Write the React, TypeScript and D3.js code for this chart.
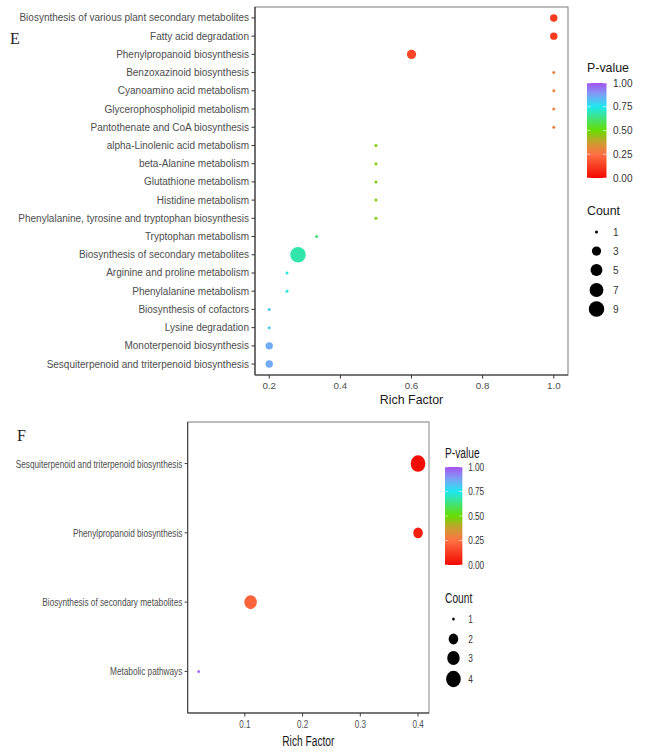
import * as d3 from "d3";
import type { ReactNode } from "react";

// Panel E — enriched KEGG pathways
const E_PATHWAYS = [
  "Biosynthesis of various plant secondary metabolites",
  "Fatty acid degradation",
  "Phenylpropanoid biosynthesis",
  "Benzoxazinoid biosynthesis",
  "Cyanoamino acid metabolism",
  "Glycerophospholipid metabolism",
  "Pantothenate and CoA biosynthesis",
  "alpha-Linolenic acid metabolism",
  "beta-Alanine metabolism",
  "Glutathione metabolism",
  "Histidine metabolism",
  "Phenylalanine, tyrosine and tryptophan biosynthesis",
  "Tryptophan metabolism",
  "Biosynthesis of secondary metabolites",
  "Arginine and proline metabolism",
  "Phenylalanine metabolism",
  "Biosynthesis of cofactors",
  "Lysine degradation",
  "Monoterpenoid biosynthesis",
  "Sesquiterpenoid and triterpenoid biosynthesis",
];
const E_RICH = [1, 1, 0.6, 1, 1, 1, 1, 0.5, 0.5, 0.5, 0.5, 0.5, 0.333, 0.281, 0.25, 0.25, 0.2, 0.2, 0.2, 0.2];
const E_PVALUE = [0.12, 0.12, 0.15, 0.3, 0.3, 0.3, 0.3, 0.47, 0.47, 0.47, 0.47, 0.47, 0.62, 0.68, 0.73, 0.73, 0.81, 0.81, 0.86, 0.86];
const E_COUNT = [2, 2, 3, 1, 1, 1, 1, 1, 1, 1, 1, 1, 1, 9, 1, 1, 1, 1, 2, 2];
const E_X_TICKS = [0.2, 0.4, 0.6, 0.8, 1.0];
const E_COUNT_BREAKS = [1, 3, 5, 7, 9];

// Panel F
const F_PATHWAYS = [
  "Sesquiterpenoid and triterpenoid biosynthesis",
  "Phenylpropanoid biosynthesis",
  "Biosynthesis of secondary metabolites",
  "Metabolic pathways",
];
const F_RICH = [0.4, 0.4, 0.11, 0.02];
const F_PVALUE = [0.01, 0.06, 0.22, 0.97];
const F_COUNT = [4, 2, 3, 1];
const F_X_TICKS = [0.1, 0.2, 0.3, 0.4];
const F_COUNT_BREAKS = [1, 2, 3, 4];

const PVALUE_TICKS = [1.0, 0.75, 0.5, 0.25, 0.0];
const PVALUE_STOPS = [0, 0.25, 0.38, 0.5, 0.75, 0.88, 1];
const PVALUE_COLORS = ["#f20800", "#ff7043", "#c8a030", "#66dd00", "#1ee8f0", "#80a0f5", "#a452f0"];

const FONT = "'Liberation Sans', Arial, Helvetica, sans-serif";

const pColor = d3
  .scaleLinear<string>()
  .domain(PVALUE_STOPS)
  .range(PVALUE_COLORS)
  .interpolate(d3.interpolateRgb)
  .clamp(true);

interface PanelProps {
  id: string;
  pathways: string[];
  rich: number[];
  pvalue: number[];
  count: number[];
  xTicks: number[];
  countBreaks: number[];
  box: { x0: number; x1: number; y0: number; y1: number };
  legendX: number;
  legend: { pTitle: number; barTop: number; barBottom: number; countTitle: number; countY: number[] };
  diam: [number, number];
  fs: number; // font scale
  narrow: number; // horizontal squeeze of glyphs
}

function Txt(props: {
  x: number;
  y: number;
  k: number;
  size: number;
  fill: string;
  anchor?: string;
  dy?: string;
  children: ReactNode;
}) {
  return (
    <text
      transform={`translate(${props.x},${props.y}) scale(${props.k},1)`}
      textAnchor={props.anchor ?? "start"}
      dy={props.dy}
      fontSize={props.size}
      fill={props.fill}
    >
      {props.children}
    </text>
  );
}

function BubblePanel(p: PanelProps) {
  const { box, fs, narrow } = p;
  // ggplot-style 5% expansion around the data range
  const [lo, hi] = d3.extent(p.rich) as [number, number];
  const pad = (hi - lo) * 0.05;
  const x = d3.scaleLinear().domain([lo - pad, hi + pad]).range([box.x0, box.x1]);
  const y = d3.scalePoint<string>().domain(p.pathways).range([box.y0, box.y1]).padding(0.6);

  const cMin = d3.min(p.countBreaks)!;
  const cMax = d3.max(p.countBreaks)!;
  const area = d3.scaleLinear().domain([0, 1]).range(p.diam);
  const radius = (c: number) => area(Math.sqrt((c - cMin) / (cMax - cMin))) / 2;

  const bar = d3.scaleLinear().domain([0, 1]).range([p.legend.barBottom, p.legend.barTop]);
  const gradStops = d3.range(0, 1.0001, 0.05);
  const lx = p.legendX;

  return (
    <g fontFamily={FONT}>
      <defs>
        <linearGradient id={`grad-${p.id}`} x1="0" y1="1" x2="0" y2="0">
          {gradStops.map((s) => (
            <stop key={s} offset={s} stopColor={pColor(s)} />
          ))}
        </linearGradient>
      </defs>

      <rect x={box.x0} y={box.y0} width={box.x1 - box.x0} height={box.y1 - box.y0} fill="#fff" stroke="#7a7a7a" strokeWidth={1} />
      <line x1={box.x0} x2={box.x0} y1={box.y0} y2={box.y1} stroke="#333" strokeWidth={1.1} />
      <line x1={box.x0} x2={box.x1} y1={box.y1} y2={box.y1} stroke="#333" strokeWidth={1.1} />

      {/* y axis */}
      {p.pathways.map((name) => (
        <g key={name}>
          <line x1={box.x0 - 3.5} x2={box.x0} y1={y(name)} y2={y(name)} stroke="#333" />
          <Txt x={box.x0 - 6} y={y(name)!} k={narrow} anchor="end" dy="0.35em" size={10 * fs} fill="#4d4d4d">
            {name}
          </Txt>
        </g>
      ))}

      {/* x axis */}
      {p.xTicks.map((t) => (
        <g key={t}>
          <line x1={x(t)} x2={x(t)} y1={box.y1} y2={box.y1 + 3.5} stroke="#333" />
          <Txt x={x(t)} y={box.y1 + 4 + 10 * fs} k={narrow} anchor="middle" size={9.8 * fs} fill="#4d4d4d">
            {t.toFixed(1)}
          </Txt>
        </g>
      ))}
      <Txt x={(box.x0 + box.x1) / 2} y={box.y1 + 29 * fs} k={narrow} anchor="middle" size={12.4 * fs} fill="#1a1a1a">
        Rich Factor
      </Txt>

      {/* bubbles */}
      {p.pathways.map((name, i) => (
        <circle key={name} cx={x(p.rich[i])} cy={y(name)} r={radius(p.count[i])} fill={pColor(p.pvalue[i])} />
      ))}

      {/* colour legend */}
      <Txt x={lx} y={p.legend.pTitle} k={narrow} size={12.4 * fs} fill="#1a1a1a">
        P-value
      </Txt>
      <rect x={lx} y={p.legend.barTop} width={19.5} height={p.legend.barBottom - p.legend.barTop} fill={`url(#grad-${p.id})`} />
      {PVALUE_TICKS.map((t) => (
        <g key={t}>
          <line x1={lx} x2={lx + 3.5} y1={bar(t)} y2={bar(t)} stroke="#fff" strokeOpacity={0.6} />
          <line x1={lx + 16} x2={lx + 19.5} y1={bar(t)} y2={bar(t)} stroke="#fff" strokeOpacity={0.6} />
          <Txt x={lx + 26} y={bar(t)} k={narrow} dy="0.35em" size={10 * fs} fill="#333">
            {t.toFixed(2)}
          </Txt>
        </g>
      ))}

      {/* size legend */}
      <Txt x={lx} y={p.legend.countTitle} k={narrow} size={12.4 * fs} fill="#1a1a1a">
        Count
      </Txt>
      {p.countBreaks.map((c, i) => (
        <g key={c}>
          <circle cx={lx + 9.5} cy={p.legend.countY[i]} r={radius(c)} fill="#000" />
          <Txt x={lx + 26} y={p.legend.countY[i]} k={narrow} dy="0.35em" size={10 * fs} fill="#333">
            {c}
          </Txt>
        </g>
      ))}
    </g>
  );
}

const F_SCALE_X = 0.89;

export default function App() {
  return (
    <svg
      width={646}
      height={752}
      style={{ position: "absolute", left: 0, top: 0, display: "block", background: "#fff" }}
    >
      <rect width={646} height={752} fill="#fff" />
      <text x={10} y={44} fontFamily="'Liberation Serif', 'Times New Roman', serif" fontSize={16} fill="#222">
        E
      </text>
      <BubblePanel
        id="e"
        pathways={E_PATHWAYS}
        rich={E_RICH}
        pvalue={E_PVALUE}
        count={E_COUNT}
        xTicks={E_X_TICKS}
        countBreaks={E_COUNT_BREAKS}
        box={{ x0: 255, x1: 568, y0: 7, y1: 375 }}
        legendX={587}
        legend={{ pTitle: 72, barTop: 83, barBottom: 178, countTitle: 215, countY: [232, 251, 270, 290, 309] }}
        diam={[3, 15.5]}
        fs={1}
        narrow={1}
      />

      <text x={17} y={441} fontFamily="'Liberation Serif', 'Times New Roman', serif" fontSize={16} fill="#222">
        F
      </text>
      <g transform={`scale(${F_SCALE_X},1)`}>
        <BubblePanel
          id="f"
          pathways={F_PATHWAYS}
          rich={F_RICH}
          pvalue={F_PVALUE}
          count={F_COUNT}
          xTicks={F_X_TICKS}
          countBreaks={F_COUNT_BREAKS}
          box={{ x0: 187.7 / F_SCALE_X, x1: 429 / F_SCALE_X, y0: 422, y1: 713 }}
          legendX={445 / F_SCALE_X}
          legend={{ pTitle: 458, barTop: 467, barBottom: 565, countTitle: 603, countY: [619, 639, 658, 679] }}
          diam={[3, 16.5]}
          fs={1.13}
          narrow={0.82}
        />
      </g>
    </svg>
  );
}
